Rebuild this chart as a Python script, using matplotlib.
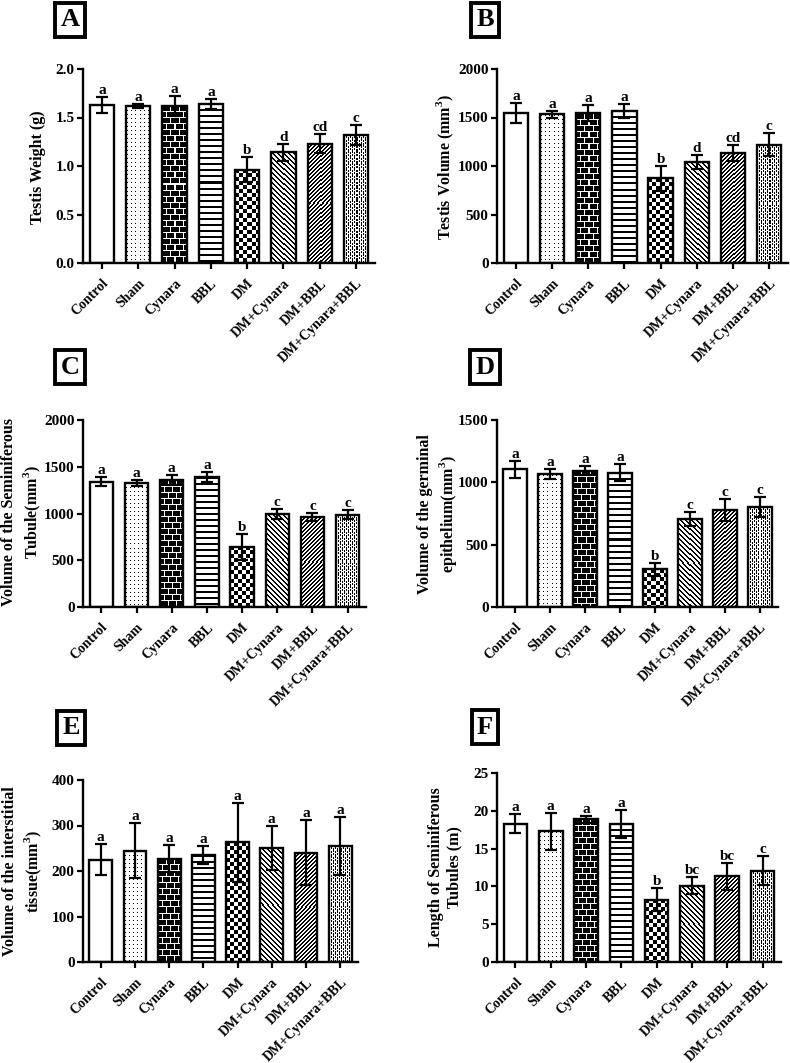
import numpy as np
import matplotlib.pyplot as plt

plt.rcParams['font.family'] = 'Liberation Serif'
plt.rcParams['font.weight'] = 'bold'
plt.rcParams['mathtext.fontset'] = 'custom'
plt.rcParams['mathtext.rm'] = 'Liberation Serif:bold'
plt.rcParams['mathtext.bf'] = 'Liberation Serif:bold'

groups = ['Control', 'Sham', 'Cynara', 'BBL', 'DM', 'DM+Cynara', 'DM+BBL', 'DM+Cynara+BBL']
patterns = ['none', 'dots', 'brick', 'hlines', 'check', 'back', 'fwd', 'zigzag']

# A - testis weight (g)
weight_mean = [1.63, 1.62, 1.62, 1.64, 0.96, 1.14, 1.23, 1.32]
weight_err = [0.085, 0.02, 0.10, 0.05, 0.13, 0.085, 0.095, 0.10]
weight_sig = ['a', 'a', 'a', 'a', 'b', 'd', 'cd', 'c']

# B - testis volume (mm3)
volume_mean = [1545, 1534, 1545, 1569, 872, 1041, 1131, 1221]
volume_err = [100, 35, 80, 72, 130, 70, 83, 117]
volume_sig = ['a', 'a', 'a', 'a', 'b', 'd', 'cd', 'c']

# C - seminiferous tubule volume
tubule_mean = [1339, 1329, 1357, 1389, 643, 996, 964, 989]
tubule_err = [50, 30, 54, 57, 143, 54, 43, 47]
tubule_sig = ['a', 'a', 'a', 'a', 'b', 'c', 'c', 'c']

# D - germinal epithelium volume
epith_mean = [1104, 1066, 1093, 1077, 303, 707, 777, 804]
epith_err = [67, 43, 37, 70, 53, 54, 91, 80]
epith_sig = ['a', 'a', 'a', 'a', 'b', 'c', 'c', 'c']

# E - interstitial tissue volume
inter_mean = [225, 245, 227, 235, 263, 251, 240, 255]
inter_err = [34, 61, 30, 20, 87, 48, 71, 64]
inter_sig = ['a', 'a', 'a', 'a', 'a', 'a', 'a', 'a']

# F - length of seminiferous tubules (m)
length_mean = [18.3, 17.3, 18.85, 18.3, 8.26, 10.1, 11.34, 12.08]
length_err = [1.23, 2.46, 0.44, 1.85, 1.58, 1.1, 1.8, 1.93]
length_sig = ['a', 'a', 'a', 'a', 'b', 'bc', 'bc', 'c']

W, H = 790, 1063
fig = plt.figure(figsize=(W / 100, H / 100), dpi=100)


def texture(kind, w, h):
    y, x = np.mgrid[0:h, 0:w]
    if kind == 'dots':
        dark = (x % 4 == 1) & (y % 4 == 1)
    elif kind == 'brick':
        row = y // 6
        dark = ~((y % 6 == 0) | ((x + (row % 2) * 4) % 8 == 0))
    elif kind == 'hlines':
        dark = (y % 6) < 2
    elif kind == 'check':
        dark = ((x // 4) + (y // 4)) % 2 == 0
    elif kind == 'back':
        dark = ((x - y) % 5) < 2
    elif kind == 'fwd':
        dark = ((x + y) % 4) < 2
    else:
        dark = ((x + 2 * ((y // 2) % 2)) % 4 == 0) | ((y % 3 == 0) & (x % 2 == 0))
    return np.where(dark, 0, 255).astype(np.uint8)


def panel(box, means, errs, sigs, ylim, yticks, fmt):
    left, right, top, bottom = box
    ax = fig.add_axes([left / W, 1 - bottom / H, (right - left) / W, (bottom - top) / H])
    xs = np.arange(len(groups))
    bw = 0.67
    ax.set_xlim(-0.52, 7.52)
    ax.set_ylim(*ylim)
    for xi, m, kind in zip(xs, means, patterns):
        if kind == 'none':
            continue
        p0 = ax.transData.transform((xi - bw / 2, 0))
        p1 = ax.transData.transform((xi + bw / 2, m))
        pw = max(int(round(abs(p1[0] - p0[0]))), 1)
        ph = max(int(round(abs(p1[1] - p0[1]))), 1)
        ax.imshow(texture(kind, pw, ph), cmap='gray', vmin=0, vmax=255,
                  extent=(xi - bw / 2, xi + bw / 2, 0, m), origin='upper',
                  interpolation='nearest', zorder=2)
    ax.set_aspect('auto')
    ax.bar(xs, means, width=bw, facecolor='none', edgecolor='black', linewidth=1.7, zorder=3)
    ax.errorbar(xs, means, yerr=errs, fmt='none', ecolor='black', elinewidth=1.6,
                capsize=4.5, capthick=1.6, zorder=4)
    for xi, m, e, s in zip(xs, means, errs, sigs):
        ax.annotate(s, (xi, m + e), xytext=(0, 0), textcoords='offset points',
                    ha='center', va='bottom', fontsize=11, fontweight='bold')
    ax.set_xlim(-0.52, 7.52)
    ax.set_ylim(*ylim)
    ax.set_yticks(yticks)
    ax.set_yticklabels([fmt.format(t) for t in yticks], fontsize=11, fontweight='bold')
    ax.set_xticks(xs)
    ax.set_xticklabels(groups, rotation=45, ha='right', rotation_mode='anchor',
                       fontsize=10, fontweight='bold')
    for side in ['top', 'right']:
        ax.spines[side].set_visible(False)
    for side in ['left', 'bottom']:
        ax.spines[side].set_linewidth(1.7)
    ax.tick_params(width=1.6, length=4, pad=2)
    ax.tick_params(axis='x', pad=6)
    return ax


panel((83, 375, 69, 263), weight_mean, weight_err, weight_sig, (0, 2.0),
      [0, 0.5, 1.0, 1.5, 2.0], '{:.1f}')
panel((497, 788, 69, 263), volume_mean, volume_err, volume_sig, (0, 2000),
      [0, 500, 1000, 1500, 2000], '{:.0f}')
panel((83, 366, 420, 607), tubule_mean, tubule_err, tubule_sig, (0, 2000),
      [0, 500, 1000, 1500, 2000], '{:.0f}')
panel((497, 778, 420, 607), epith_mean, epith_err, epith_sig, (0, 1500),
      [0, 500, 1000, 1500], '{:.0f}')
panel((83, 358, 780, 962), inter_mean, inter_err, inter_sig, (0, 400),
      [0, 100, 200, 300, 400], '{:.0f}')
panel((497, 781, 773, 962), length_mean, length_err, length_sig, (0, 25),
      [0, 5, 10, 15, 20, 25], '{:.0f}')

# y-axis titles
ylabels = [
    (38, 167, 'Testis Weight (g)'),
    (445, 167, 'Testis Volume (mm$^{3}$)'),
    (22, 512, 'Volume of the Seminiferous\nTubule(mm$^{3}$)'),
    (438, 514, 'Volume of the germinal\nepithelium(mm$^{3}$)'),
    (23, 871, 'Volume of the interstitial\ntissue(mm$^{3}$)'),
    (445, 867, 'Length of Seminiferous\nTubules (m)'),
]
for px, py, txt in ylabels:
    fig.text(px / W, 1 - py / H, txt, rotation=90, ha='center', va='center',
             fontsize=11.5, fontweight='bold', linespacing=1.25)

# panel letters
letters = [(70, 20, 'A'), (485, 20, 'B'), (70, 367, 'C'), (485, 367, 'D'),
           (71, 728, 'E'), (485, 727, 'F')]
for px, py, txt in letters:
    fig.text(px / W, 1 - py / H, txt, ha='center', va='center', fontsize=19,
             fontweight='bold',
             bbox=dict(boxstyle='square,pad=0.2', facecolor='white',
                       edgecolor='black', linewidth=2.8))

fig.savefig('out.png', dpi=100)
